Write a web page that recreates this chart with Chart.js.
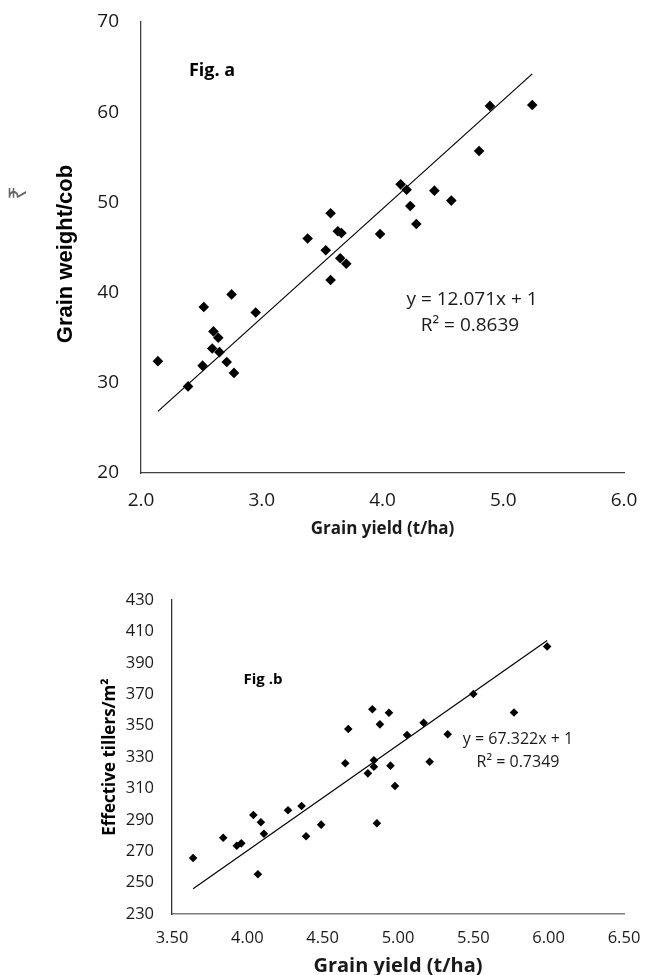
<!DOCTYPE html>
<html>
<head>
<meta charset="utf-8">
<script src="https://cdn.jsdelivr.net/npm/chart.js@4.4.1/dist/chart.umd.min.js"></script>
<style>
  html, body { margin: 0; padding: 0; background: #fff; overflow: hidden; }
  .wrap { position: absolute; left: 0; width: 647px; }
  #wa { top: 0; height: 545px; }
  #wb { top: 545px; height: 440px; }
</style>
</head>
<body>
<div class="wrap" id="wa"><canvas id="ca" width="647" height="545"></canvas></div>
<div class="wrap" id="wb"><canvas id="cb" width="647" height="440"></canvas></div>
<script>
// ---------- Fig. a data ----------
const yieldA = [2.14, 2.39, 2.51, 2.52, 2.59, 2.60, 2.64, 2.65, 2.71, 2.75, 2.77, 2.95, 3.38, 3.53, 3.57, 3.57, 3.63, 3.66, 3.65, 3.70, 3.98, 4.15, 4.20, 4.23, 4.28, 4.43, 4.57, 4.80, 4.89, 5.24];
const grainWeightA = [32.4, 29.6, 31.9, 38.4, 33.8, 35.7, 35.0, 33.4, 32.3, 39.8, 31.1, 37.8, 46.0, 44.7, 48.8, 41.4, 46.8, 46.6, 43.8, 43.2, 46.5, 52.0, 51.4, 49.6, 47.6, 51.3, 50.2, 55.7, 60.7, 60.8];
const xTicksA = [2.0, 3.0, 4.0, 5.0, 6.0];
const yTicksA = [20, 30, 40, 50, 60, 70];
const trendA = { slope: 12.071, intercept: 1, r2: '0.8639' };

// ---------- Fig. b data ----------
const yieldB = [3.64, 3.84, 3.93, 3.96, 4.04, 4.07, 4.09, 4.11, 4.27, 4.36, 4.39, 4.49, 4.65, 4.67, 4.80, 4.83, 4.84, 4.84, 4.86, 4.88, 4.94, 4.95, 4.98, 5.06, 5.17, 5.21, 5.33, 5.50, 5.77, 5.99];
const tillersB = [265.7, 278.6, 273.5, 275.0, 293.1, 255.3, 288.4, 281.1, 296.1, 298.8, 279.5, 286.9, 326.0, 347.8, 319.6, 360.4, 327.9, 323.8, 287.8, 350.8, 358.2, 324.5, 311.5, 344.0, 351.8, 327.0, 344.5, 370.1, 358.3, 400.4];
const xTicksB = [3.5, 4.0, 4.5, 5.0, 5.5, 6.0, 6.5];
const yTicksB = [230, 250, 270, 290, 310, 330, 350, 370, 390, 410, 430];
const trendB = { slope: 67.322, intercept: 1, r2: '0.7349' };

function pts(xs, ys) { return xs.map((x, i) => ({ x: x, y: ys[i] })); }
function trendPts(xs, t) {
  const lo = Math.min(...xs), hi = Math.max(...xs);
  return [lo, hi].map(x => ({ x: x, y: t.slope * x + t.intercept }));
}

const textPlugin = {
  id: 'annot',
  afterDraw(chart, args, opts) {
    const ctx = chart.ctx;
    ctx.save();
    (opts.items || []).forEach(it => {
      ctx.save();
      ctx.font = it.font;
      ctx.fillStyle = it.color || '#000';
      ctx.textAlign = 'center';
      ctx.textBaseline = 'middle';
      ctx.translate(it.x, it.y);
      if (it.rot) ctx.rotate(it.rot);
      ctx.fillText(it.text, 0, 0);
      ctx.restore();
    });
    ctx.restore();
  }
};

function makeChart(id, cfg) {
  const chart = new Chart(document.getElementById(id), {
    type: 'scatter',
    data: {
      datasets: [
        {
          data: pts(cfg.xs, cfg.ys),
          pointStyle: 'rectRot',
          pointRadius: cfg.r,
          pointHoverRadius: cfg.r,
          backgroundColor: '#000',
          borderColor: '#000',
          borderWidth: 0,
          showLine: false
        },
        {
          type: 'line',
          data: trendPts(cfg.xs, cfg.trend),
          borderColor: '#000',
          borderWidth: 1.2,
          pointRadius: 0,
          fill: false
        }
      ]
    },
    options: {
      responsive: false,
      animation: false,
      events: [],
      layout: { padding: Object.assign({}, cfg.pad) },
      plugins: {
        legend: { display: false },
        tooltip: { enabled: false },
        annot: { items: cfg.texts }
      },
      scales: {
        x: {
          type: 'linear',
          min: cfg.xTicks[0], max: cfg.xTicks[cfg.xTicks.length - 1],
          afterBuildTicks: s => { s.ticks = cfg.xTicks.map(v => ({ value: v })); },
          afterFit: s => { s.height = cfg.xH; s.paddingLeft = 0; s.paddingRight = 0; },
          grid: { display: false, drawTicks: false },
          border: { display: true, color: cfg.xBorder, width: cfg.xBorderW },
          ticks: {
            padding: cfg.xTickPad,
            color: '#1a1a1a',
            font: { family: 'Open Sans', size: cfg.xTickSize },
            callback: v => Number(v).toFixed(cfg.xDec)
          },
          title: {
            display: true,
            text: 'Grain yield (t/ha)',
            color: '#1a1a1a',
            font: { family: 'Open Sans', weight: 'bold', size: cfg.xTitleSize },
            padding: { top: 0, bottom: cfg.xTitlePad }
          }
        },
        y: {
          type: 'linear',
          min: cfg.yTicks[0], max: cfg.yTicks[cfg.yTicks.length - 1],
          afterBuildTicks: s => { s.ticks = cfg.yTicks.map(v => ({ value: v })); },
          afterFit: s => { s.width = cfg.yW; s.paddingTop = 0; s.paddingBottom = 0; },
          grid: { display: false, drawTicks: false },
          border: { display: true, color: cfg.yBorder, width: cfg.yBorderW },
          ticks: {
            padding: cfg.yTickPad,
            color: '#1a1a1a',
            font: { family: 'Open Sans', size: cfg.yTickSize }
          },
          title: {
            display: cfg.yTitleLib,
            text: cfg.yTitle,
            color: '#000',
            font: cfg.yTitleFont,
            padding: { top: cfg.yTitlePad, bottom: 0 }
          }
        }
      }
    },
    plugins: [textPlugin]
  });
  return chart;
}

makeChart('ca', {
  xs: yieldA, ys: grainWeightA, trend: trendA, r: 5.3,
  xTicks: xTicksA, yTicks: yTicksA, xDec: 1,
  pad: { top: 22, right: 23, left: 0, bottom: 0 },
  xH: 72, yW: 141,
  xBorder: '#404040', xBorderW: 1.3, yBorder: '#404040', yBorderW: 1.3,
  xTickPad: 16, xTickSize: 19, yTickPad: 22, yTickSize: 19,
  xTitleSize: 17, xTitlePad: 6,
  yTitle: 'Grain weight/cob', yTitleLib: false,
  yTitleFont: { family: 'Liberation Sans', weight: 'bold', size: 22 },
  yTitlePad: 53,
  texts: [
    { text: 'Grain weight/cob', x: 66, y: 254, font: 'bold 22px "Liberation Sans", Arial', color: '#000', rot: -Math.PI / 2 },
    { text: 'Fig. a', x: 212, y: 71, font: 'bold 18px "Open Sans"' },
    { text: 'y = 12.071x + 1', x: 472, y: 300, font: '19px "Open Sans"', color: '#1a1a1a' },
    { text: 'R\u00B2 = 0.8639', x: 470, y: 326, font: '19px "Open Sans"', color: '#1a1a1a' },
    { text: '\u20B9', x: 19, y: 193, font: '24px "Noto Sans", "DejaVu Sans"', color: '#666', rot: -Math.PI / 2 }
  ]
});

makeChart('cb', {
  xs: yieldB, ys: tillersB, trend: trendB, r: 4.3,
  xTicks: xTicksB, yTicks: yTicksB, xDec: 2,
  pad: { top: 55, right: 23, left: 0, bottom: 0 },
  xH: 71, yW: 172,
  xBorder: '#7a7a7a', xBorderW: 1.6, yBorder: '#333', yBorderW: 1.3,
  xTickPad: 14, xTickSize: 16.5, yTickPad: 18, yTickSize: 16.5,
  xTitleSize: 20, xTitlePad: 7,
  yTitle: 'Effective tillers/m\u00B2', yTitleLib: true,
  yTitleFont: { family: 'Open Sans', weight: 'bold', size: 17 },
  yTitlePad: 100,
  texts: [
    { text: 'Fig .b', x: 263, y: 135, font: 'bold 15px "Open Sans"' },
    { text: 'y = 67.322x + 1', x: 518, y: 194, font: '16px "Open Sans"', color: '#1a1a1a' },
    { text: 'R\u00B2 = 0.7349', x: 518, y: 217, font: '16px "Open Sans"', color: '#1a1a1a' }
  ]
});
</script>
</body>
</html>
